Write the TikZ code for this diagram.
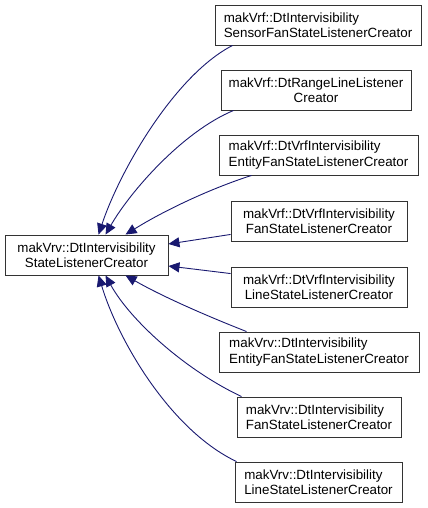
\documentclass[tikz,border=0pt]{standalone}
\usepackage{fontspec}
\setmainfont{Liberation Sans}
\usetikzlibrary{arrows.meta}
\definecolor{edgeblue}{HTML}{191970}
\definecolor{boxline}{HTML}{333333}
\tikzset{
  cls/.style={draw=boxline, line width=0.9bp, fill=white, inner sep=0pt, minimum height=40bp,
    font=\fontsize{13.4pt}{15.5pt}\selectfont},
  edge/.style={draw=edgeblue, line width=0.9bp, -{Triangle[length=11bp,width=10bp]}}
}
\begin{document}
\begin{tikzpicture}[x=1bp,y=-1bp]
\useasboundingbox (0,0) rectangle (427,508);
\node[cls, minimum width=163bp, align=center] (base) at (86.5,255) {makVrv::DtIntervisibility\\StateListenerCreator};
\node[cls, minimum width=206bp, align=left] (b1) at (318,25) {makVrf::DtIntervisibility\\SensorFanStateListenerCreator};
\node[cls, minimum width=190bp, align=center] (b2) at (316,90) {makVrf::DtRangeLineListener\\Creator};
\node[cls, minimum width=199bp, align=left] (b3) at (318.5,155) {makVrf::DtVrfIntervisibility\\EntityFanStateListenerCreator};
\node[cls, minimum width=176bp, align=center] (b4) at (319,221) {makVrf::DtVrfIntervisibility\\FanStateListenerCreator};
\node[cls, minimum width=176bp, align=center] (b5) at (319,287) {makVrf::DtVrfIntervisibility\\LineStateListenerCreator};
\node[cls, minimum width=200bp, align=left] (b6) at (319,352) {makVrv::DtIntervisibility\\EntityFanStateListenerCreator};
\node[cls, minimum width=164bp, align=left] (b7) at (319,417) {makVrv::DtIntervisibility\\FanStateListenerCreator};
\node[cls, minimum width=167bp, align=left] (b8) at (318.5,482) {makVrv::DtIntervisibility\\LineStateListenerCreator};

\draw[edge] ([xshift=18bp]b1.south west) .. controls (175,75) and (120,170) .. ([xshift=94bp]base.north west);
\draw[edge] ([xshift=13bp]b2.south west) .. controls (182,132) and (130,192) .. ([xshift=101bp]base.north west);
\draw[edge] ([xshift=33bp]b3.south west) .. controls (212,188) and (165,210) .. ([xshift=121bp]base.north west);
\draw[edge] ([yshift=7bp]b4.south west) -- ([yshift=11bp]base.east);
\draw[edge] ([yshift=-7bp]b5.north west) -- ([yshift=-11bp]base.east);
\draw[edge] ([xshift=28bp]b6.north west) .. controls (212,318) and (165,298) .. ([xshift=121bp]base.south west);
\draw[edge] ([xshift=5bp]b7.north west) .. controls (185,370) and (130,320) .. ([xshift=101bp]base.south west);
\draw[edge] ([xshift=2bp]b8.north west) .. controls (170,430) and (118,340) .. ([xshift=94bp]base.south west);
\end{tikzpicture}
\end{document}
